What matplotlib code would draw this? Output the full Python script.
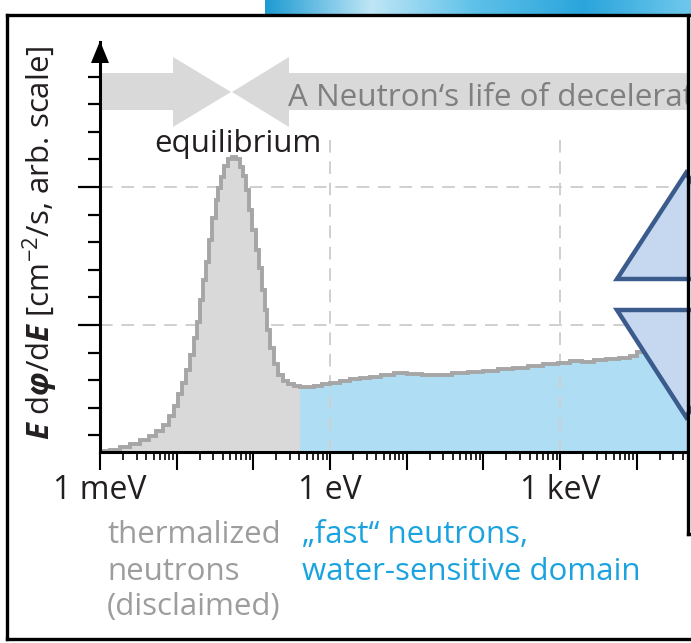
import numpy as np
import matplotlib
matplotlib.use("Agg")
import matplotlib.pyplot as plt
from matplotlib.patches import Polygon
from matplotlib.lines import Line2D
from matplotlib.transforms import Affine2D
from matplotlib.colors import LinearSegmentedColormap
from matplotlib.ticker import FixedLocator, FixedFormatter, LogLocator, NullFormatter

# ---------------- data ----------------
energy_eV = [1.00e-3, 1.16e-3, 1.57e-3, 2.12e-3, 2.86e-3, 3.87e-3, 4.91e-3, 6.06e-3,
             7.26e-3, 8.44e-3, 9.80e-3, 1.10e-2, 1.25e-2, 1.41e-2, 1.58e-2, 1.79e-2,
             1.95e-2, 2.14e-2, 2.34e-2, 2.56e-2, 2.80e-2, 3.07e-2, 3.36e-2, 3.67e-2,
             4.02e-2, 4.40e-2, 4.96e-2, 5.60e-2, 6.31e-2, 7.11e-2, 7.78e-2, 8.51e-2,
             9.31e-2, 0.102, 0.112, 0.122, 0.134, 0.146, 0.160, 0.175, 0.198, 0.223,
             0.259, 0.310, 0.371, 0.444, 0.548, 0.697, 0.887, 1.16, 1.57, 2.12, 2.86,
             3.86, 5.70, 8.18, 12.8, 20.1, 31.6, 49.6, 77.9, 122, 192, 301, 472, 741,
             1160, 1570, 2320, 3330, 4770, 7040, 9230, 11000, 17300, 27200, 46700]
flux = [0.40, 0.42, 0.47, 0.58, 0.69, 0.83, 0.98, 1.16,
        1.38, 1.70, 2.07, 2.50, 2.90, 3.37, 3.91, 4.53,
        5.11, 5.91, 6.63, 7.28, 8.08, 8.88, 9.53, 9.96,
        10.36, 10.76, 11.01, 11.09, 11.01, 10.72, 10.40, 9.89,
        9.17, 8.44, 7.72, 7.07, 6.27, 5.54, 4.82, 4.17, 3.59, 3.19,
        2.97, 2.86, 2.79, 2.75, 2.75, 2.79, 2.86, 2.90, 2.97, 3.04, 3.08,
        3.12, 3.19, 3.26, 3.22, 3.19, 3.19, 3.26, 3.30, 3.33, 3.41, 3.44, 3.51, 3.59,
        3.62, 3.70, 3.66, 3.73, 3.77, 3.80, 3.88, 4.02, 4.09, 4.13, 4.20]
cutoff_eV = 0.406
xtick_values = [1e-3, 1.0, 1e3]
xtick_labels = ["1 meV", "1 eV", "1 keV"]
grid_y = [5, 10]
grid_x = [1.0, 1e3]
banner_text = "A Neutron\u2018s life of deceleration"
peak_label = "equilibrium"
thermal_lines = ["thermalized", "neutrons", "(disclaimed)"]
fast_lines = ["\u201efast\u201c neutrons,", "water-sensitive domain"]

# ---------------- style ----------------
plt.rcParams["font.family"] = ["Open Sans", "DejaVu Sans"]
plt.rcParams["mathtext.fontset"] = "custom"
plt.rcParams["mathtext.rm"] = "Open Sans"
plt.rcParams["mathtext.it"] = "Open Sans:italic"
plt.rcParams["mathtext.bf"] = "Open Sans:italic:bold"

W, H = 691, 643
fig = plt.figure(figsize=(W / 100, H / 100), dpi=100)
PX = Affine2D().scale(1, -1).translate(0, H)  # pixel coords, origin top-left

DARK = "#231f20"
FILL_GRAY = "#d9d9d9"
FILL_BLUE = "#afdef4"
LINE_GRAY = "#a6a6a6"
GRID = "#cfcfcf"
FS = 22.5

# top image strip (decorative)
grad = np.linspace(0, 1, 256)[None, :]
sax = fig.add_axes([265 / W, 1 - 14 / H, (W - 265) / W, 14 / H])
cm = LinearSegmentedColormap.from_list("s", ["#1e9bd3", "#bfe6f6", "#5cc0e8", "#2aa5dc", "#6fc8ec"])
sax.imshow(grad, aspect="auto", cmap=cm)
sax.axis("off")

# main axes
ax = fig.add_axes([100 / W, 1 - 452 / H, 588 / W, 410 / H])
ax.set_xscale("log")
ax.set_xlim(1e-3, 10 ** (-3 + 588 / 76.67))
ax.set_ylim(0.4, 0.4 + 410 / 27.6)
ax.set_facecolor("none")

E = np.array(energy_eV)
F = np.array(flux)
logE = np.log10(E)
edges = np.concatenate([[E[0]], 10 ** ((logE[:-1] + logE[1:]) / 2), [E[-1]]])
k = int(np.sum(E < cutoff_eV))

# banner arrows (behind everything in the axes)
ARROW = "#d9d9d9"
ax.add_patch(Polygon([(100, 73), (173, 73), (173, 57), (231, 92), (173, 127), (173, 110), (100, 110)],
                     closed=True, transform=PX, facecolor=ARROW, edgecolor="none", zorder=0.5,
                     clip_on=False))
ax.add_patch(Polygon([(688, 73), (289, 73), (289, 57), (232, 92), (289, 127), (289, 110), (688, 110)],
                     closed=True, transform=PX, facecolor=ARROW, edgecolor="none", zorder=0.5,
                     clip_on=False))
ax.text(288, 106, banner_text, transform=PX, fontsize=22.6, color="#7f7f7f",
        ha="left", va="baseline", clip_on=True, zorder=5)

for gy in grid_y:
    ax.axhline(gy, color=GRID, lw=1.4, ls=(0, (6.5, 4.5)), zorder=1)
ax.stairs(F[:k], edges[:k + 1], baseline=0.4, fill=True, color=FILL_GRAY, lw=0, zorder=2)
ax.stairs(F[k:], edges[k:], baseline=0.4, fill=True, color=FILL_BLUE, lw=0, zorder=2)
ax.vlines(grid_x, 0.4, 12, color=GRID, lw=1.4, ls=(0, (6.5, 4.5)), zorder=3)
ax.stairs(F, edges, baseline=None, color=LINE_GRAY, lw=2.8, zorder=4)

for s in ["top", "right"]:
    ax.spines[s].set_visible(False)
for s in ["left", "bottom"]:
    ax.spines[s].set_linewidth(2.2)
    ax.spines[s].set_color("black")
    ax.spines[s].set_zorder(6)

# x ticks
decades = [10.0 ** p for p in range(-3, 5)]
ax.xaxis.set_major_locator(FixedLocator(decades))
ax.xaxis.set_major_formatter(FixedFormatter(
    [xtick_labels[xtick_values.index(d)] if d in xtick_values else "" for d in decades]))
ax.xaxis.set_minor_locator(LogLocator(base=10, subs=np.arange(2, 10), numticks=50))
ax.xaxis.set_minor_formatter(NullFormatter())
ax.tick_params(axis="x", which="major", length=13, width=1.5, direction="out",
               pad=3, labelsize=23, labelcolor=DARK)
ax.tick_params(axis="x", which="minor", length=6, width=1.2, direction="out")

# y ticks
ax.yaxis.set_major_locator(FixedLocator(grid_y))
ax.yaxis.set_minor_locator(FixedLocator([v for v in range(1, 15) if v not in grid_y]))
ax.yaxis.set_major_formatter(NullFormatter())
ax.tick_params(axis="y", which="major", length=16, width=1.6, direction="out")
ax.tick_params(axis="y", which="minor", length=9, width=1.6, direction="out")

# y-axis arrow head
fig.add_artist(Polygon([(100, 41), (91, 63), (109, 63)], closed=True,
                       transform=PX, facecolor="black", edgecolor="none", zorder=7))

# equilibrium label
fig.text(238 / W, 1 - 152 / H, peak_label, fontsize=FS, color=DARK, ha="center", va="baseline")

# y label
ylab = r"$\mathbf{E}$ d$\mathbf{\varphi}$/d$\mathbf{E}$ [cm$^{-2}$/s, arb. scale]"
fig.text(40 / W, 1 - 243 / H, ylab, rotation=90, fontsize=FS, color=DARK,
         ha="center", va="center")

# bottom labels
for line, yb in zip(thermal_lines, [543, 580, 615]):
    fig.text(107 / W, 1 - yb / H, line, fontsize=FS, color="#9d9d9d", ha="left", va="baseline")
for line, yb in zip(fast_lines, [543, 580]):
    fig.text(302 / W, 1 - yb / H, line, fontsize=FS, color="#1ba3e0", ha="left", va="baseline")

# triangles on the right
TRI_FACE = "#c6d8f0"
TRI_EDGE = "#3b5b8c"
fig.add_artist(Polygon([(686, 173), (617, 279), (755, 279)], closed=True, transform=PX,
                       facecolor=TRI_FACE, edgecolor=TRI_EDGE, lw=3.2, joinstyle="miter", zorder=8))
fig.add_artist(Polygon([(617, 310), (755, 310), (686, 417)], closed=True, transform=PX,
                       facecolor=TRI_FACE, edgecolor=TRI_EDGE, lw=3.2, joinstyle="miter", zorder=8))

# frame lines
def frame(xs, ys, lw=2.4):
    fig.add_artist(Line2D(xs, ys, transform=PX, color="black", lw=lw, zorder=9,
                          solid_capstyle="projecting"))

frame([7, 691], [15, 15])
frame([7, 7], [15, 639])
frame([7, 691], [639, 639])
frame([688, 688], [15, 534])
frame([688, 691], [534, 534])

fig.savefig("out.png", dpi=100)
